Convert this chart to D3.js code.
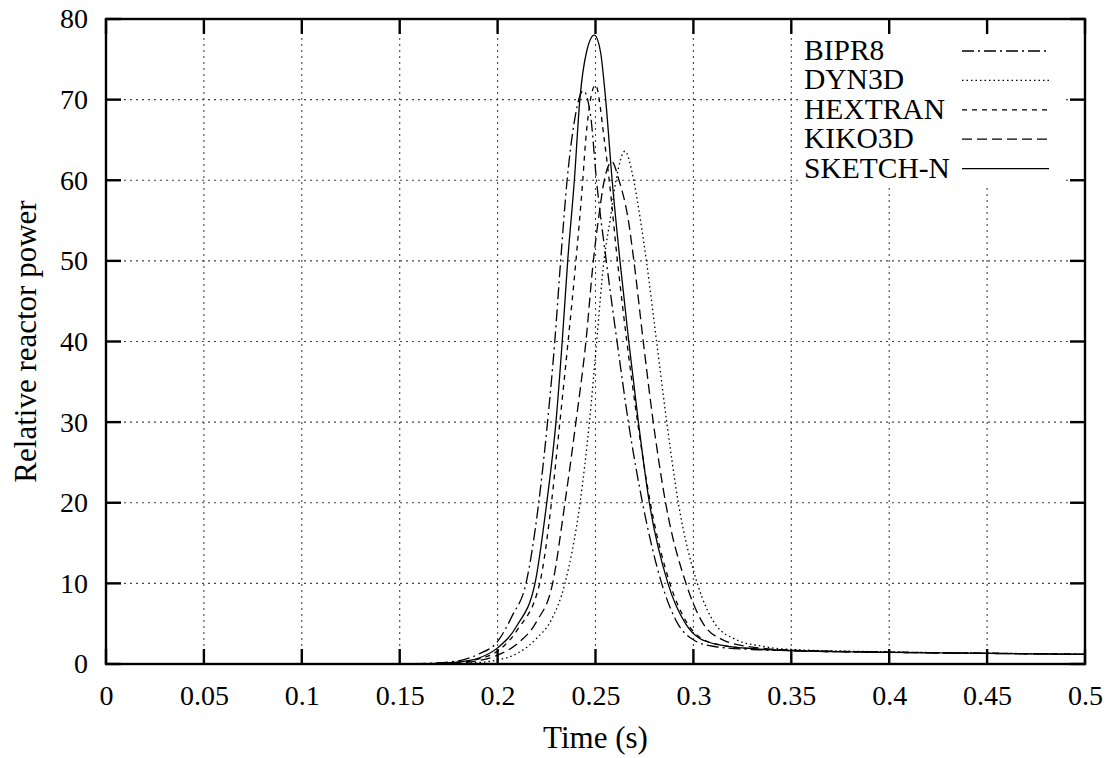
<!DOCTYPE html>
<html>
<head>
  <meta charset='utf-8'>
  <style>
    body { margin: 0; background: #fff; }
    text { font-family: 'Liberation Serif', 'DejaVu Serif', serif; }
  </style>
  <script src='https://cdn.jsdelivr.net/npm/d3@7'></script>
</head>
<body>
<script>
  let [width, height] = [1110, 758]
  let margin = { left: 106, right: 25, top: 19, bottom: 94 }
  let fontSize = 28

  // tick values and labels
  let xTicks = [0, 0.05, 0.1, 0.15, 0.2, 0.25, 0.3, 0.35, 0.4, 0.45, 0.5]
  let xLabels = ['0', '0.05', '0.1', '0.15', '0.2', '0.25', '0.3', '0.35', '0.4', '0.45', '0.5']
  let yTicks = [0, 10, 20, 30, 40, 50, 60, 70, 80]

  // [time (s), relative power]
  let tail = [[0.35, 1.65], [0.40, 1.45], [0.45, 1.32], [0.50, 1.2]]

  let bipr8 = [[0, 0], [0.15, 0], [0.165, 0.1], [0.18, 0.4], [0.19, 1.2], [0.20, 2.8], [0.2075, 6],
    [0.2145, 10], [0.2210, 20], [0.2255, 30], [0.2292, 40], [0.2322, 50], [0.2355, 60], [0.2390, 67],
    [0.2438, 71.1], [0.2475, 68], [0.2505, 60], [0.2555, 50], [0.2610, 40], [0.2668, 30], [0.2740, 20],
    [0.2838, 10], [0.2920, 5], [0.300, 3.0], [0.31, 2.2], [0.33, 1.8], ...tail]

  let dyn3d = [[0, 0], [0.17, 0], [0.185, 0.1], [0.195, 0.3], [0.20, 0.5], [0.21, 1.3], [0.22, 3.2],
    [0.2275, 5.5], [0.2344, 10], [0.2421, 20], [0.2469, 30], [0.2506, 40], [0.2543, 50], [0.2574, 55],
    [0.2605, 60], [0.2650, 63.6], [0.2695, 60], [0.2730, 55], [0.2760, 50], [0.2812, 40], [0.2864, 30],
    [0.2923, 20], [0.3020, 10], [0.311, 5], [0.322, 3.0], [0.335, 2.2], [0.35, 1.8], [0.40, 1.5],
    [0.45, 1.34], [0.50, 1.22]]

  let hextran = [[0, 0], [0.15, 0], [0.17, 0.05], [0.18, 0.2], [0.19, 0.6], [0.20, 1.6], [0.21, 4.2],
    [0.2215, 10], [0.2275, 20], [0.2318, 30], [0.2360, 40], [0.2400, 50], [0.2435, 60], [0.2450, 65],
    [0.2500, 71.8], [0.2545, 65], [0.2570, 60], [0.2612, 50], [0.2660, 40], [0.2715, 30], [0.2780, 20],
    [0.2880, 10], [0.2970, 5], [0.304, 3.2], [0.315, 2.3], [0.33, 1.9], ...tail]

  let kiko3d = [[0, 0], [0.16, 0], [0.18, 0.1], [0.19, 0.4], [0.20, 1.1], [0.21, 2.5], [0.22, 5.3],
    [0.2281, 10], [0.2344, 20], [0.2400, 30], [0.2451, 40], [0.2489, 50], [0.2514, 55], [0.2545, 60],
    [0.2583, 62.3], [0.2620, 60], [0.2668, 55], [0.2696, 50], [0.2744, 40], [0.2795, 30], [0.2858, 20],
    [0.2962, 10], [0.305, 5], [0.315, 3.0], [0.33, 2.1], [0.35, 1.72], [0.40, 1.48], [0.45, 1.33], [0.50, 1.21]]

  let sketchN = [[0, 0], [0.15, 0], [0.17, 0.08], [0.18, 0.25], [0.19, 0.7], [0.20, 2.0], [0.21, 4.8],
    [0.2191, 10], [0.2251, 20], [0.2298, 30], [0.2330, 40], [0.2358, 50], [0.2392, 60], [0.2420, 70],
    [0.2455, 76], [0.2494, 78], [0.2525, 76], [0.2552, 70], [0.2585, 60], [0.2625, 50], [0.2670, 40],
    [0.2719, 30], [0.2775, 20], [0.2870, 10], [0.2960, 5], [0.3030, 3.2], [0.315, 2.3], [0.33, 1.9], ...tail]

  let names = ['BIPR8', 'DYN3D', 'HEXTRAN', 'KIKO3D', 'SKETCH-N']
  let data = [bipr8, dyn3d, hextran, kiko3d, sketchN]
  let dashes = ['12,4,2,4', '1.5,3', '5,5', '10,5', null]

  let x = d3.scaleLinear([0, 0.5], [margin.left, width - margin.right])
  let y = d3.scaleLinear([0, 80], [height - margin.bottom, margin.top])

  let svg = d3.select('body').append('svg')
    .attr('width', width)
    .attr('height', height)

  // grid
  let grid = svg.append('g')
    .attr('stroke', '#444')
    .attr('stroke-width', 1.1)
    .attr('stroke-dasharray', '2,4')
  grid.selectAll('.gx')
    .data(xTicks.slice(1, -1))
    .join('line')
    .attr('x1', d => x(d)).attr('x2', d => x(d))
    .attr('y1', y(0)).attr('y2', y(80))
  grid.selectAll('.gy')
    .data(yTicks.slice(1, -1))
    .join('line')
    .attr('x1', x(0)).attr('x2', x(0.5))
    .attr('y1', d => y(d)).attr('y2', d => y(d))

  // legend backdrop hides the grid
  svg.append('rect')
    .attr('x', 798).attr('y', y(80))
    .attr('width', 264).attr('height', 186 - y(80))
    .attr('fill', '#fff')

  svg.append('clipPath').attr('id', 'clip')
    .append('rect')
    .attr('x', x(0)).attr('y', y(80))
    .attr('width', x(0.5) - x(0)).attr('height', y(0) - y(80))

  let line = d3.line()
    .x(d => x(d[0]))
    .y(d => y(d[1]))
    .curve(d3.curveMonotoneX)

  svg.append('g')
    .attr('clip-path', 'url(#clip)')
    .selectAll('path')
    .data(data)
    .join('path')
    .attr('d', line)
    .attr('fill', 'none')
    .attr('stroke', '#000')
    .attr('stroke-width', 1.3)
    .attr('stroke-dasharray', (d, i) => dashes[i])

  // axes: labels from d3 axes, frame and inward ticks drawn on all four sides
  let tickLen = 15
  let axes = svg.append('g')
  axes.append('g')
    .attr('transform', `translate(0,${y(0)})`)
    .call(d3.axisBottom(x).tickValues(xTicks).tickFormat((d, i) => xLabels[i]).tickSize(0).tickPadding(21))
  axes.append('g')
    .attr('transform', `translate(${x(0)},0)`)
    .call(d3.axisLeft(y).tickValues(yTicks).tickSize(0).tickPadding(18))
  axes.selectAll('.domain').remove()
  axes.selectAll('text')
    .attr('fill', '#000')
    .attr('font-size', fontSize)
    .style('font-family', "'Liberation Serif', serif")

  let ticks = svg.append('g')
    .attr('stroke', '#000')
    .attr('stroke-width', 2.4)
  ticks.selectAll('.tb')
    .data(xTicks)
    .join('line')
    .attr('x1', d => x(d)).attr('x2', d => x(d))
    .attr('y1', y(0)).attr('y2', y(0) - tickLen)
  ticks.selectAll('.tt')
    .data(xTicks)
    .join('line')
    .attr('x1', d => x(d)).attr('x2', d => x(d))
    .attr('y1', y(80)).attr('y2', y(80) + tickLen)
  ticks.selectAll('.tl')
    .data(yTicks)
    .join('line')
    .attr('x1', x(0)).attr('x2', x(0) + tickLen)
    .attr('y1', d => y(d)).attr('y2', d => y(d))
  ticks.selectAll('.tr')
    .data(yTicks)
    .join('line')
    .attr('x1', x(0.5)).attr('x2', x(0.5) - tickLen)
    .attr('y1', d => y(d)).attr('y2', d => y(d))

  svg.append('rect')
    .attr('x', x(0)).attr('y', y(80))
    .attr('width', x(0.5) - x(0)).attr('height', y(0) - y(80))
    .attr('fill', 'none')
    .attr('stroke', '#000')
    .attr('stroke-width', 2.4)

  // legend
  let legend = svg.append('g')
    .attr('font-size', 29.5)
  names.forEach((name, i) => {
    let ly = 60 + i * 29.4
    legend.append('text')
      .attr('x', 804).attr('y', ly)
      .text(name)
    legend.append('line')
      .attr('x1', 962).attr('x2', 1049)
      .attr('y1', ly - 9).attr('y2', ly - 9)
      .attr('stroke', '#000')
      .attr('stroke-width', 1.3)
      .attr('stroke-dasharray', dashes[i])
  })

  // axis titles
  svg.append('text')
    .attr('x', (x(0) + x(0.5)) / 2).attr('y', 748)
    .attr('text-anchor', 'middle')
    .attr('font-size', 31)
    .text('Time (s)')
  svg.append('text')
    .attr('transform', `translate(36,${(y(0) + y(80)) / 2}) rotate(-90)`)
    .attr('text-anchor', 'middle')
    .attr('font-size', 31)
    .text('Relative reactor power')
</script>
</body>
</html>
